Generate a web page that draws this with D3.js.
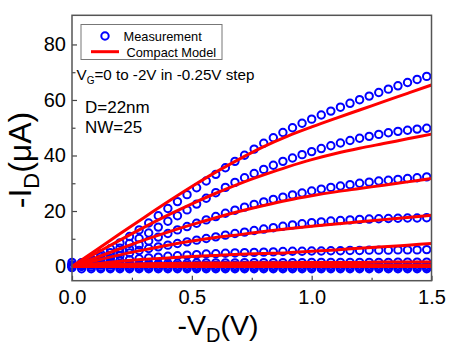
<!DOCTYPE html>
<html>
<head>
<meta charset="utf-8">
<script src="https://cdn.jsdelivr.net/npm/d3@7"></script>
<style>
  body { margin: 0; background: #fff; }
  svg { display: block; font-family: "Liberation Sans", Arial, sans-serif; }
</style>
</head>
<body>
<svg id="chart" width="449" height="346"></svg>
<script>
// measured drain voltage (-VD, V)
var vd = [0.00,0.04,0.08,0.12,0.16,0.20,0.24,0.28,0.32,0.36,0.40,0.44,0.48,0.52,0.56,0.60,0.64,0.68,0.72,0.76,
          0.80,0.84,0.88,0.92,0.96,1.00,1.04,1.08,1.12,1.16,1.20,1.24,1.28,1.32,1.36,1.40,1.44,1.48];

// measurement, -ID (uA), VG = -2V ... 0V
var measA = [0.5,1.4,2.8,4.5,6.4,8.5,10.8,13.2,15.7,18.3,20.9,23.4,25.9,28.4,30.8,33.2,35.6,37.9,40.1,42.3,
             44.4,46.4,48.3,50.0,51.6,53.1,54.6,56.0,57.4,58.8,60.1,61.4,62.7,63.9,65.1,66.3,67.4,68.5];
var measB = [0.4,1.2,2.3,3.6,5.0,6.6,8.3,10.1,12.1,14.2,16.3,18.3,20.4,22.5,24.6,26.6,28.5,30.3,32.0,33.5,
             35.0,36.5,37.9,39.1,40.3,41.4,42.5,43.5,44.5,45.4,46.2,46.9,47.6,48.2,48.7,49.1,49.5,49.8];
var measC = [0.3,0.9,1.7,2.7,3.8,5.0,6.3,7.8,9.2,10.6,11.9,13.2,14.4,15.6,16.8,18.0,19.2,20.3,21.4,22.4,
             23.3,24.2,25.0,25.8,26.5,27.2,27.9,28.5,29.0,29.5,30.0,30.4,30.8,31.1,31.4,31.7,32.0,32.3];
var measD = [0.2,0.7,1.3,2.0,2.9,3.9,4.9,5.8,6.5,7.1,7.7,8.3,8.9,9.5,10.1,10.7,11.3,11.9,12.4,13.0,
             13.5,14.0,14.5,15.0,15.4,15.8,16.1,16.4,16.6,16.8,17.0,17.1,17.2,17.3,17.4,17.5,17.5,17.6];
var measE = [0.2,0.5,0.9,1.3,1.7,2.1,2.5,2.8,3.1,3.4,3.7,3.9,4.1,4.3,4.5,4.6,4.8,4.9,5.0,5.1,
             5.2,5.3,5.4,5.5,5.5,5.6,5.6,5.7,5.7,5.8,5.8,5.9,5.9,5.9,6.0,6.0,6.0,6.1];
var measF = [0.2,0.4,0.6,0.7,0.8,0.9,1.0,1.0,1.1,1.1,1.2,1.2,1.2,1.3,1.3,1.3,1.3,1.3,1.4,1.4,
             1.4,1.4,1.4,1.4,1.4,1.5,1.5,1.5,1.5,1.5,1.5,1.5,1.5,1.5,1.6,1.6,1.6,1.6];
var measG = [1.5,0.8,0.6,0.5,0.5,0.4,0.4,0.4,0.4,0.4,0.4,0.4,0.4,0.4,0.4,0.4,0.4,0.4,0.4,0.4,
             0.4,0.4,0.4,0.4,0.4,0.4,0.4,0.4,0.4,0.4,0.4,0.4,0.4,0.4,0.4,0.4,0.4,0.4];
var measH = [0.6,0.0,-0.2,-0.3,-0.3,-0.3,-0.3,-0.3,-0.3,-0.3,-0.3,-0.3,-0.3,-0.3,-0.3,-0.3,-0.3,-0.3,-0.3,-0.3,
             -0.3,-0.3,-0.3,-0.3,-0.3,-0.3,-0.3,-0.3,-0.3,-0.3,-0.3,-0.3,-0.3,-0.3,-0.3,-0.3,-0.3,-0.3];
var measI = [-0.4,-0.8,-0.8,-0.8,-0.8,-0.8,-0.8,-0.8,-0.8,-0.8,-0.8,-0.8,-0.8,-0.8,-0.8,-0.8,-0.8,-0.8,-0.8,-0.8,
             -0.8,-0.8,-0.8,-0.8,-0.8,-0.8,-0.8,-0.8,-0.8,-0.8,-0.8,-0.8,-0.8,-0.8,-0.8,-0.8,-0.8,-0.8];

// compact model
var vm = [0,0.1,0.2,0.3,0.4,0.5,0.6,0.7,0.8,0.9,1.0,1.1,1.2,1.3,1.4,1.5];
var modA = [0,5.9,11.8,17.6,23.3,28.8,34.0,38.8,43.2,47.0,50.3,53.4,56.4,59.4,62.4,65.4];
var modB = [0,4.8,9.5,14.1,18.5,22.6,26.4,29.9,33.0,35.9,38.5,40.7,42.6,44.3,46.0,47.7];
var modC = [0,3.2,6.4,9.5,12.4,15.1,17.6,19.9,22.0,23.9,25.5,26.9,28.1,29.3,30.5,31.7];
var modD = [0,2.2,4.2,6.0,7.7,9.2,10.5,11.5,12.6,13.6,14.5,15.3,16.1,16.9,17.7,18.5];
var modE = [0,1.0,1.9,2.6,3.1,3.6,4.0,4.4,4.7,5.0,5.5,6.0,6.6,7.1,7.7,8.3];
var modF = [0,0.5,0.8,1.0,1.1,1.2,1.3,1.3,1.4,1.4,1.5,1.5,1.5,1.6,1.6,1.6];
var modG = [0,0.2,0.3,0.3,0.3,0.3,0.4,0.4,0.4,0.4,0.4,0.4,0.4,0.4,0.4,0.4];
var modH = [0,0.1,0.1,0.1,0.1,0.1,0.1,0.1,0.1,0.1,0.1,0.1,0.1,0.1,0.1,0.1];
var modI = [0,0,0,0,0,0,0,0,0,0,0,0,0,0,0,0];

var xTicks = [0, 0.5, 1.0, 1.5];
var xMinor = [0.25, 0.75, 1.25];
var yTicks = [0, 20, 40, 60, 80];
var yMinor = [10, 30, 50, 70];

var measured = [measA, measB, measC, measD, measE, measF, measG, measH, measI];
var model = [modA, modB, modC, modD, modE, modF, modG, modH, modI];

var svg = d3.select("#chart");
var plotL = 72, plotR = 431.5, plotT = 15.3, plotB = 280.7;

var x = d3.scaleLinear().domain([0, 1.5]).range([plotL, plotR]);
var y = d3.scaleLinear().domain([-5.1, 90.5]).range([plotB, plotT]);

// axes (ticks point inward)
svg.append("g").attr("transform", "translate(0," + plotB + ")")
  .call(d3.axisBottom(x).tickValues(xTicks).tickFormat(d3.format(".1f"))
        .tickSizeInner(-5).tickSizeOuter(0).tickPadding(9));
svg.append("g").attr("transform", "translate(0," + plotB + ")")
  .call(d3.axisBottom(x).tickValues(xMinor).tickFormat("").tickSizeInner(-3).tickSizeOuter(0));
svg.append("g").attr("transform", "translate(" + plotL + ",0)")
  .call(d3.axisLeft(y).tickValues(yTicks).tickSizeInner(-5).tickSizeOuter(0).tickPadding(6));
svg.append("g").attr("transform", "translate(" + plotL + ",0)")
  .call(d3.axisLeft(y).tickValues(yMinor).tickFormat("").tickSizeInner(-3.5).tickSizeOuter(0));

svg.selectAll(".domain").remove();
svg.selectAll(".tick line").attr("stroke", "#444").attr("stroke-width", 1.2);
svg.selectAll(".tick text").attr("font-family", "Liberation Sans, Arial, sans-serif")
  .attr("font-size", 20).attr("fill", "#000");

// measurement circles
var plot = svg.append("g");
measured.forEach(function (ser) {
  plot.append("g").selectAll("circle")
    .data(ser)
    .join("circle")
    .attr("cx", function (d, i) { return x(vd[i]); })
    .attr("cy", function (d) { return y(d); })
    .attr("r", 3.7)
    .attr("fill", "none")
    .attr("stroke", "#0000ff")
    .attr("stroke-width", 2);
});

// model lines
var line = d3.line()
  .x(function (d, i) { return x(vm[i]); })
  .y(function (d) { return y(d); })
  .curve(d3.curveMonotoneX);
model.forEach(function (ser) {
  plot.append("path")
    .attr("d", line(ser))
    .attr("fill", "none")
    .attr("stroke", "#ff0000")
    .attr("stroke-width", 3);
});

// frame
svg.append("rect")
  .attr("x", plotL).attr("y", plotT)
  .attr("width", plotR - plotL).attr("height", plotB - plotT)
  .attr("fill", "none").attr("stroke", "#555").attr("stroke-width", 1.5);

// legend
var lg = svg.append("g");
lg.append("rect").attr("x", 81).attr("y", 24.5).attr("width", 141).attr("height", 35)
  .attr("fill", "#fff").attr("stroke", "#777").attr("stroke-width", 1);
lg.append("circle").attr("cx", 105).attr("cy", 36).attr("r", 3.7)
  .attr("fill", "none").attr("stroke", "#0000ff").attr("stroke-width", 2);
lg.append("line").attr("x1", 91).attr("x2", 119).attr("y1", 51.7).attr("y2", 51.7)
  .attr("stroke", "#ff0000").attr("stroke-width", 3);
lg.append("text").attr("x", 123.5).attr("y", 40.5).attr("font-size", 12.8).text("Measurement");
lg.append("text").attr("x", 126.5).attr("y", 56.5).attr("font-size", 12.8).text("Compact Model");

// annotations
var note = svg.append("text").attr("x", 76.5).attr("y", 80).attr("font-size", 15.2);
note.append("tspan").text("V");
note.append("tspan").attr("font-size", 10).attr("dy", 4).text("G");
note.append("tspan").attr("dy", -4).text("=0 to -2V in -0.25V step");
svg.append("text").attr("x", 85).attr("y", 113.3).attr("font-size", 17).text("D=22nm");
svg.append("text").attr("x", 85).attr("y", 133.3).attr("font-size", 17).text("NW=25");

// axis titles
var xt = svg.append("text").attr("x", 218).attr("y", 334.5).attr("text-anchor", "middle").attr("font-size", 28.5);
xt.append("tspan").text("-V");
xt.append("tspan").attr("font-size", 20).attr("dy", 7).text("D");
xt.append("tspan").attr("dy", -7).text("(V)");

var yt = svg.append("text").attr("transform", "translate(31,160) rotate(-90)")
  .attr("text-anchor", "middle").attr("font-size", 32);
yt.append("tspan").text("-I");
yt.append("tspan").attr("font-size", 22).attr("dy", 8).text("D");
yt.append("tspan").attr("dy", -8).text("(μA)");
</script>
</body>
</html>
